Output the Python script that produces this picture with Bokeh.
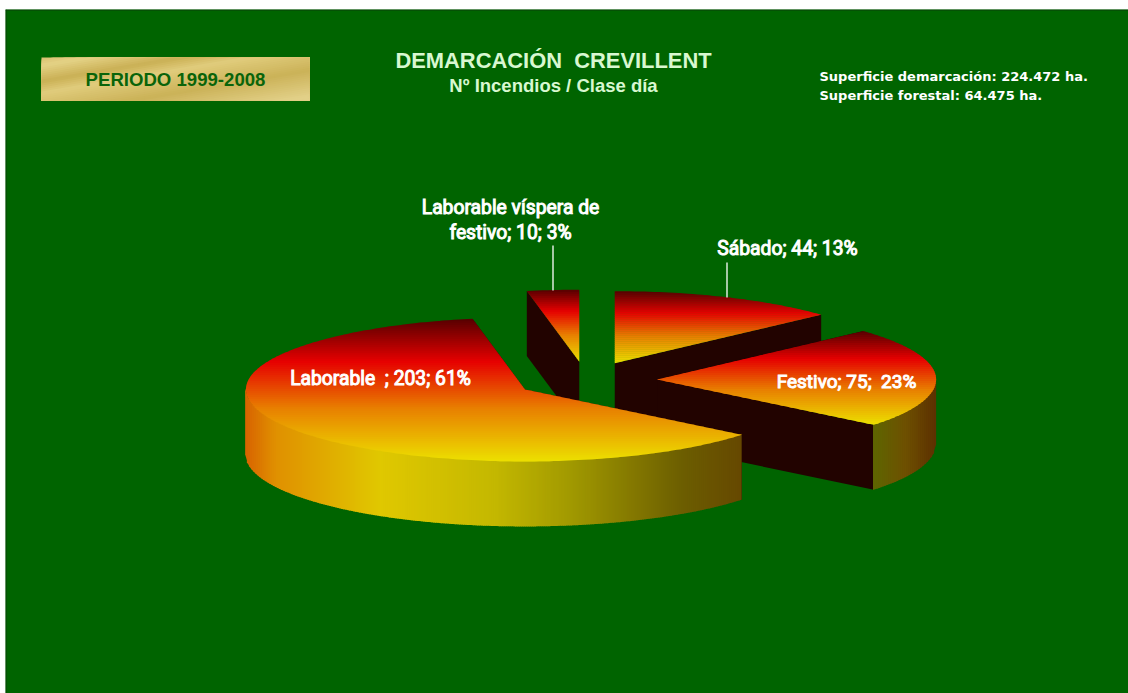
import math
from bokeh.plotting import figure
from bokeh.models import Range1d
from bokeh.core.properties import value
from bokeh.embed import file_html
from bokeh.resources import INLINE

# ---- data (clockwise, from twelve o'clock; the first slice ends there) ----
categories = ["Laborable víspera de festivo", "Sábado", "Festivo", "Laborable"]
values = [10, 44, 75, 203]
percents = [3, 13, 23, 61]
label_lines = [["Laborable víspera de", "festivo; 10; 3%"], ["Sábado; 44; 13%"],
               ["Festivo; 75;\u00a0 23%"], ["Laborable\u00a0 ; 203; 61%"]]
title = "DEMARCACIÓN\u00a0 CREVILLENT"
subtitle = "Nº Incendios / Clase día"
period = "PERIODO 1999-2008"
info = ["Superficie demarcación: 224.472 ha.", "Superficie forestal: 64.475 ha."]

# ---- layout ----
W, H = 1128, 693
LEFT, TOP = 5, 9
CX, CY, RX, RY, DEPTH, EXPLODE = 585.5, 379.5, 279.0, 72.0, 65.0, 0.255
TOP_STOPS = [(0, "#560000"), (.30, "#E60000"), (.63, "#E88000"), (1, "#ECE000")]
DARK = "#220300"
LAB_WALL = [(0, "#D86400"), (.06, "#E09000"), (.27, "#E0C800"), (.5, "#C4B800"),
            (.66, "#A09800"), (.88, "#6C5E00"), (1, "#664800")]
FES_WALL = [(0, "#5E6600"), (.5, "#6E5000"), (1, "#5C3000")]
GOLD = [(0, "#D8C070"), (.09, "#E4D286"), (.27, "#CAB055"), (.40, "#E0CC7C"),
        (.66, "#CBB258"), (.95, "#E2D088"), (1, "#E2D088")]


def mix(stops, t):
    t = min(max(t, 0), 1)
    for (a, ca), (b, cb) in zip(stops, stops[1:]):
        if t <= b:
            f = (t - a) / (b - a)
            rgb = [int(ca[i:i + 2], 16) * (1 - f) + int(cb[i:i + 2], 16) * f for i in (1, 3, 5)]
            return "#%02x%02x%02x" % tuple(int(round(c)) for c in rgb)
    return stops[-1][1]


def clip(poly, nx, ny, lim):
    """keep the part of poly where nx*x + ny*y <= lim"""
    out = []
    for i, (x0, y0) in enumerate(poly):
        x1, y1 = poly[(i + 1) % len(poly)]
        d0, d1 = nx * x0 + ny * y0 - lim, nx * x1 + ny * y1 - lim
        if d0 <= 0:
            out.append((x0, y0))
        if d0 * d1 < 0:
            f = d0 / (d0 - d1)
            out.append((x0 + f * (x1 - x0), y0 + f * (y1 - y0)))
    return out


xs, ys, cols = [], [], []


def add(poly, color):
    if len(poly) >= 3:
        xs.append([q[0] for q in poly])
        ys.append([q[1] for q in poly])
        cols.append(color)


def pt(cx, cy, th, dz=0.0):
    return (cx + RX * math.sin(th), cy - RY * math.cos(th) + dz)


total = sum(values)
angle = -2 * math.pi * values[0] / total
for i, v in enumerate(values):
    a0, a1 = angle, angle + 2 * math.pi * v / total
    angle = a1
    mid = (a0 + a1) / 2
    cx = CX + EXPLODE * RX * math.sin(mid)
    cy = CY - EXPLODE * RY * math.cos(mid)
    # radial cut faces
    for a in (a0, a1):
        e = pt(cx, cy, a)
        add([(cx, cy), e, (e[0], e[1] + DEPTH), (cx, cy + DEPTH)], DARK)
    # outer wall, only its front half shows: columns of 2px, right to left
    f0, f1 = max(a0, math.pi / 2), min(a1, 3 * math.pi / 2)
    if f1 > f0:
        hi, lo = pt(cx, cy, f0)[0], pt(cx, cy, f1)[0]
        stops = LAB_WALL if lo < cx else FES_WALL
        x = hi
        while x > lo:
            xn = max(x - 2, lo)
            y_a = cy + RY * math.sqrt(max(0, 1 - ((x - cx) / RX) ** 2))
            y_b = cy + RY * math.sqrt(max(0, 1 - ((xn - cx) / RX) ** 2))
            c = mix(stops, ((x + xn) / 2 - lo) / (hi - lo))
            add([(x, y_a - 1), (xn - 0.8, y_b - 1), (xn - 0.8, y_b + DEPTH), (x, y_a + DEPTH)], c)
            x = xn
    # top face in horizontal bands
    m = max(int((a1 - a0) / math.radians(1)), 2)
    top = [(cx, cy)] + [pt(cx, cy, a0 + (a1 - a0) * k / m) for k in range(m + 1)]
    y0 = min(q[1] for q in top)
    y1 = max(q[1] for q in top)
    y = y0
    while y < y1:
        band = clip(clip(top, 0, 1, y + 2.6), 0, -1, -y)
        add(band, mix(TOP_STOPS, (y + 1 - y0) / (y1 - y0)))
        y += 2.0

# gold box built from slanted bands, each painted to the box's lower end
box = [(41, 57), (309, 57), (309, 100), (41, 100)]
SLOPE = 0.17
tmin, tmax = 57 + SLOPE * 41, 100 + SLOPE * 309
t = tmin
while t < tmax:
    band = clip(box, -SLOPE, -1, -t)
    add(band, mix(GOLD, (t + 1 - tmin) / (tmax - tmin)))
    t += 2.0

p = figure(width=W, height=H, output_backend="svg", toolbar_location=None,
           x_range=Range1d(LEFT, W), y_range=Range1d(H, TOP),
           min_border_left=LEFT, min_border_top=TOP, min_border_right=0, min_border_bottom=0)
p.axis.visible = False
p.grid.visible = False
p.background_fill_color = "#006400"
p.border_fill_color = "white"
p.outline_line_color = None

p.patches(xs, ys, fill_color=cols, line_color=None)

# thin dark rim on the panel's top and left, leader lines up to the labels
p.segment([LEFT, LEFT + 0.5], [TOP + 0.5, TOP], [W, LEFT + 0.5], [TOP + 0.5, H], line_color="#0b3d0b", line_width=1)
p.segment([552.5, 726.5], [245, 262], [552.5, 726.5], [290, 297], line_color="white", line_width=1.3)


def label(txt, x, y, size, color="white", font="Roboto", bold=False, align="center", thick=False):
    p.text([x], [y], text=[txt], text_font=value(font), text_font_size=size, text_color=color,
           text_font_style="bold" if bold else "normal", text_align=align, text_baseline="middle",
           text_outline_color=color if thick else None)


label(label_lines[0][0], 510, 207, "19.3px", thick=True)
label(label_lines[0][1], 510, 232, "19.3px", thick=True)
label(label_lines[1][0], 787, 248, "19.3px", thick=True)
label(label_lines[2][0], 846, 381, "19px", thick=True)
label(label_lines[3][0], 380, 378, "19.3px", thick=True)
label(title, 553, 60, "21.9px", "#D8F8D0", "Liberation Sans", True)
label(subtitle, 553, 85, "18.5px", "#D8F8D0", "Liberation Sans", True)
label(period, 175, 79, "18.6px", "#0A640A", "Liberation Sans", True)
label(info[0], 819, 76, "13px", "white", "DejaVu Sans", True, "left")
label(info[1], 819, 95, "13px", "white", "DejaVu Sans", True, "left")

open("out.html", "w").write(file_html(p, INLINE))
